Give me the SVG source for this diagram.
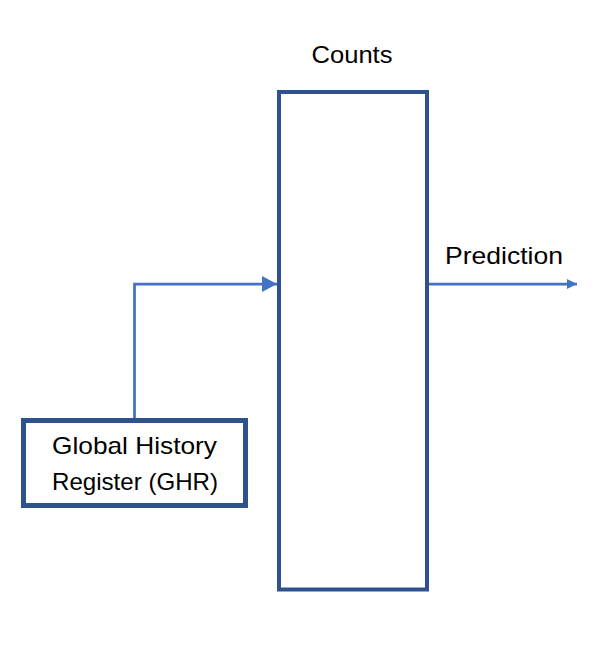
<svg xmlns="http://www.w3.org/2000/svg" width="604" height="648" viewBox="0 0 604 648">
<style>
.box{fill:#fff;stroke:#2F528F}
.lbl{font-family:"Liberation Sans",Arial,sans-serif;font-size:24px;fill:#000}
.conn{fill:none;stroke:#4472C4;stroke-width:2.75}
</style>
<defs>
<marker id="ahBig" markerUnits="userSpaceOnUse" markerWidth="16" markerHeight="18" refX="15" refY="8" orient="auto" viewBox="0 0 16 16">
<path d="M0,0 L15,8 L0,16 Z" fill="#4472C4"/>
</marker>
<marker id="ahSmall" markerUnits="userSpaceOnUse" markerWidth="11" markerHeight="11" refX="10" refY="5" orient="auto" viewBox="0 0 11 10">
<path d="M0,0 L10,5 L0,10 Z" fill="#4472C4"/>
</marker>
</defs>
<rect width="604" height="648" fill="#fff"/>
<g id="counts">
<rect class="box" x="279" y="92" width="148" height="497.5" stroke-width="4"/>
<text class="lbl" x="352" y="62.5" text-anchor="middle" textLength="81" lengthAdjust="spacingAndGlyphs">Counts</text>
</g>
<g id="ghr">
<rect class="box" x="23.5" y="420.5" width="222" height="85" stroke-width="5"/>
<text class="lbl" x="134.5" y="454.3" text-anchor="middle" textLength="165" lengthAdjust="spacingAndGlyphs">Global History</text>
<text class="lbl" x="135" y="490" text-anchor="middle" textLength="166" lengthAdjust="spacingAndGlyphs">Register (GHR)</text>
</g>
<g id="prediction-label">
<text class="lbl" x="504" y="264" text-anchor="middle" textLength="118" lengthAdjust="spacingAndGlyphs">Prediction</text>
</g>
<g id="connectors">
<path class="conn" d="M134.5,418 V284 H277" marker-end="url(#ahBig)"/>
<path class="conn" d="M429,284 H577" marker-end="url(#ahSmall)"/>
</g>
</svg>
